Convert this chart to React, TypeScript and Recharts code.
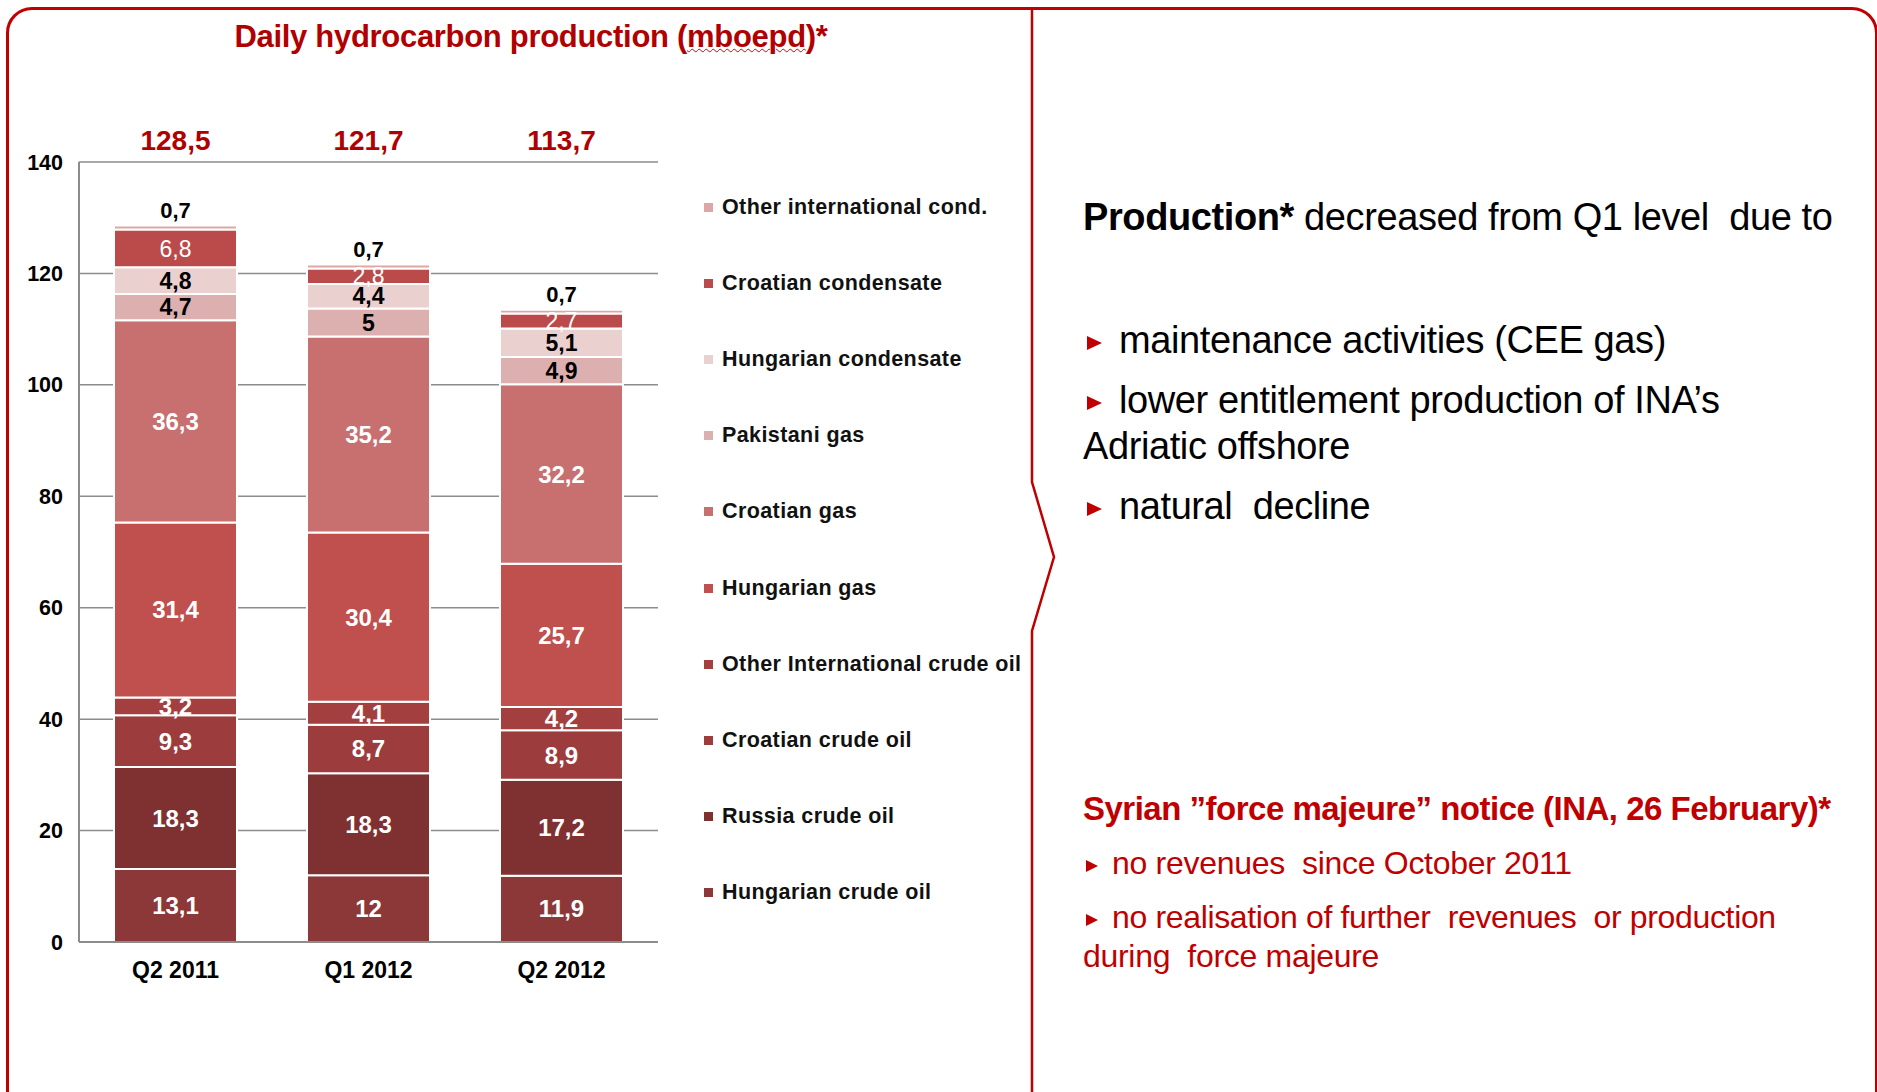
import { BarChart, Bar, XAxis, YAxis, CartesianGrid, LabelList, Legend } from 'recharts';

const quarters = ['Q2 2011', 'Q1 2012', 'Q2 2012'];
const totals = ['128,5', '121,7', '113,7'];
const yTicks = [0, 20, 40, 60, 80, 100, 120, 140];

// bottom of the stack first
const hungarianCrude = [13.1, 12, 11.9];
const russiaCrude = [18.3, 18.3, 17.2];
const croatianCrude = [9.3, 8.7, 8.9];
const otherIntlCrude = [3.2, 4.1, 4.2];
const hungarianGas = [31.4, 30.4, 25.7];
const croatianGas = [36.3, 35.2, 32.2];
const pakistaniGas = [4.7, 5, 4.9];
const hungarianCond = [4.8, 4.4, 5.1];
const croatianCond = [6.8, 2.8, 2.7];
const otherIntlCond = [0.7, 0.7, 0.7];

const series = [
  { key: 'huCrude', name: 'Hungarian crude oil', values: hungarianCrude, color: '#8c3838', label: 'white' },
  { key: 'ruCrude', name: 'Russia crude oil', values: russiaCrude, color: '#7f3131', label: 'white' },
  { key: 'hrCrude', name: 'Croatian crude oil', values: croatianCrude, color: '#9c3c3c', label: 'white' },
  { key: 'intCrude', name: 'Other International crude oil', values: otherIntlCrude, color: '#a33f3f', label: 'white' },
  { key: 'huGas', name: 'Hungarian gas', values: hungarianGas, color: '#c0504d', label: 'white' },
  { key: 'hrGas', name: 'Croatian gas', values: croatianGas, color: '#c87070', label: 'white' },
  { key: 'pkGas', name: 'Pakistani gas', values: pakistaniGas, color: '#ddb0b0', label: 'black' },
  { key: 'huCond', name: 'Hungarian condensate', values: hungarianCond, color: '#ebd0d0', label: 'black' },
  { key: 'hrCond', name: 'Croatian condensate', values: croatianCond, color: '#bb4b4b', label: 'thin' },
  { key: 'intCond', name: 'Other international cond.', values: otherIntlCond, color: '#dfa6a6', label: 'top' },
];

const data = quarters.map((q, i) => {
  const row: Record<string, string | number> = { quarter: q };
  series.forEach((s) => {
    row[s.key] = s.values[i];
  });
  return row;
});

const FONT = '"Liberation Sans", Arial, sans-serif';
const RED = '#c00000';
const fmt = (v: any) => String(v).replace('.', ',');

const labelProps = (kind: string) => {
  if (kind === 'black') return { fill: '#000', fontWeight: 'bold', fontSize: 23 };
  if (kind === 'thin') return { fill: '#fff', fontWeight: 'normal', fontSize: 23 };
  if (kind === 'top') return { fill: '#000', fontWeight: 'bold', fontSize: 22 };
  return { fill: '#fff', fontWeight: 'bold', fontSize: 24 };
};

function LegendList() {
  return (
    <div style={{ fontFamily: FONT }}>
      {[...series].reverse().map((s) => (
        <div key={s.key} style={{ height: 76.2, display: 'flex', alignItems: 'center' }}>
          <span style={{ width: 9, height: 9, background: s.color, marginRight: 9 }} />
          <span style={{ fontSize: 21.5, fontWeight: 'bold', color: '#111', letterSpacing: 0.4, whiteSpace: 'nowrap' }}>
            {s.name}
          </span>
        </div>
      ))}
    </div>
  );
}

function Tri({ size, color }: { size: number; color: string }) {
  return (
    <span
      style={{
        display: 'inline-block',
        width: 0,
        height: 0,
        borderTop: `${size / 2}px solid transparent`,
        borderBottom: `${size / 2}px solid transparent`,
        borderLeft: `${size}px solid ${color}`,
        verticalAlign: 'middle',
      }}
    />
  );
}

const line = (top: number, left: number, extra: React.CSSProperties = {}): React.CSSProperties => ({
  position: 'absolute',
  top,
  left,
  whiteSpace: 'nowrap',
  fontFamily: FONT,
  ...extra,
});

export default function App() {
  return (
    <div style={{ position: 'absolute', left: 0, top: 0, width: 1877, height: 1092, background: '#fff', overflow: 'hidden' }}>
      {/* frame */}
      <div
        style={{
          position: 'absolute',
          left: 6,
          top: 7,
          width: 1866,
          height: 1200,
          border: `3px solid ${RED}`,
          borderRadius: 26,
        }}
      />
      <svg width={1877} height={1092} style={{ position: 'absolute', left: 0, top: 0 }}>
        <polyline points="1032,9 1032,482 1054,557 1032,631 1032,1092" fill="none" stroke={RED} strokeWidth={2.5} />
      </svg>

      <div style={line(19, 0, { width: 1062, textAlign: 'center', fontSize: 31, fontWeight: 'bold', color: '#b00000', letterSpacing: -0.3 })}>
        Daily hydrocarbon production (
        <span style={{ textDecoration: 'underline wavy #e00000', textDecorationThickness: 1 }}>mboepd</span>)*
      </div>

      <div style={{ position: 'absolute', left: 0, top: 0 }}>
        <BarChart
          width={1030}
          height={1000}
          data={data}
          margin={{ top: 122, right: 372, bottom: 8, left: 0 }}
          style={{ fontFamily: FONT }}
        >
          <CartesianGrid vertical={false} stroke="#8c8c8c" strokeWidth={1.5} />
          <XAxis
            dataKey="quarter"
            height={50}
            tickLine={false}
            tickSize={0}
            tickMargin={20}
            axisLine={{ stroke: '#8c8c8c', strokeWidth: 2 }}
            tick={{ fill: '#000', fontSize: 23, fontWeight: 'bold' }}
          />
          <XAxis
            xAxisId="top"
            orientation="top"
            dataKey="quarter"
            height={40}
            axisLine={false}
            tickLine={false}
            tickSize={0}
            tickMargin={12}
            tickFormatter={(_v: any, i: number) => totals[i]}
            tick={{ fill: '#b00000', fontSize: 28, fontWeight: 'bold' }}
          />
          <YAxis
            width={79}
            domain={[0, 140]}
            ticks={yTicks}
            interval={0}
            tickLine={false}
            tickSize={0}
            tickMargin={16}
            axisLine={{ stroke: '#8c8c8c', strokeWidth: 2 }}
            tick={{ fill: '#000', fontSize: 21.5, fontWeight: 'bold' }}
          />
          <Legend
            layout="vertical"
            align="center"
            verticalAlign="middle"
            content={() => <LegendList />}
            wrapperStyle={{ position: 'absolute', left: 704, top: 169, width: 330 }}
          />
          {series.map((s) => (
            <Bar
              key={s.key}
              dataKey={s.key}
              name={s.name}
              stackId="prod"
              fill={s.color}
              stroke="#fff"
              strokeWidth={2}
              barSize={123}
              isAnimationActive={false}
            >
              <LabelList
                dataKey={s.key}
                position={s.label === 'top' ? 'top' : 'center'}
                offset={8}
                formatter={fmt}
                fontFamily={FONT}
                {...labelProps(s.label)}
              />
            </Bar>
          ))}
        </BarChart>
      </div>

      {/* commentary */}
      <div style={line(196, 1083, { fontSize: 38, color: '#000', letterSpacing: -0.4 })}>
        <b>Production*</b> decreased from Q1 level&nbsp; due to
      </div>
      <div style={line(319, 1087, { fontSize: 38, color: '#000', letterSpacing: -0.4 })}>
        <Tri size={15} color={RED} />
        <span style={{ marginLeft: 17 }}>maintenance activities (CEE gas)</span>
      </div>
      <div style={line(379, 1087, { fontSize: 38, color: '#000', letterSpacing: -0.4 })}>
        <Tri size={15} color={RED} />
        <span style={{ marginLeft: 17 }}>lower entitlement production of INA’s</span>
      </div>
      <div style={line(425, 1083, { fontSize: 38, color: '#000', letterSpacing: -0.4 })}>Adriatic offshore</div>
      <div style={line(485, 1087, { fontSize: 38, color: '#000', letterSpacing: -0.4 })}>
        <Tri size={15} color={RED} />
        <span style={{ marginLeft: 17 }}>natural&nbsp; decline</span>
      </div>

      <div style={line(790, 1083, { fontSize: 33, color: RED, fontWeight: 'bold', letterSpacing: -0.5 })}>
        Syrian ”force majeure” notice (INA, 26 February)*
      </div>
      <div style={line(845, 1086, { fontSize: 32, color: RED, letterSpacing: -0.3 })}>
        <Tri size={12} color={RED} />
        <span style={{ marginLeft: 14 }}>no revenues&nbsp; since October 2011</span>
      </div>
      <div style={line(899, 1086, { fontSize: 32, color: RED, letterSpacing: -0.35 })}>
        <Tri size={12} color={RED} />
        <span style={{ marginLeft: 14 }}>no realisation of further&nbsp; revenues&nbsp; or production</span>
      </div>
      <div style={line(938, 1083, { fontSize: 32, color: RED, letterSpacing: -0.3 })}>during&nbsp; force majeure</div>
    </div>
  );
}
